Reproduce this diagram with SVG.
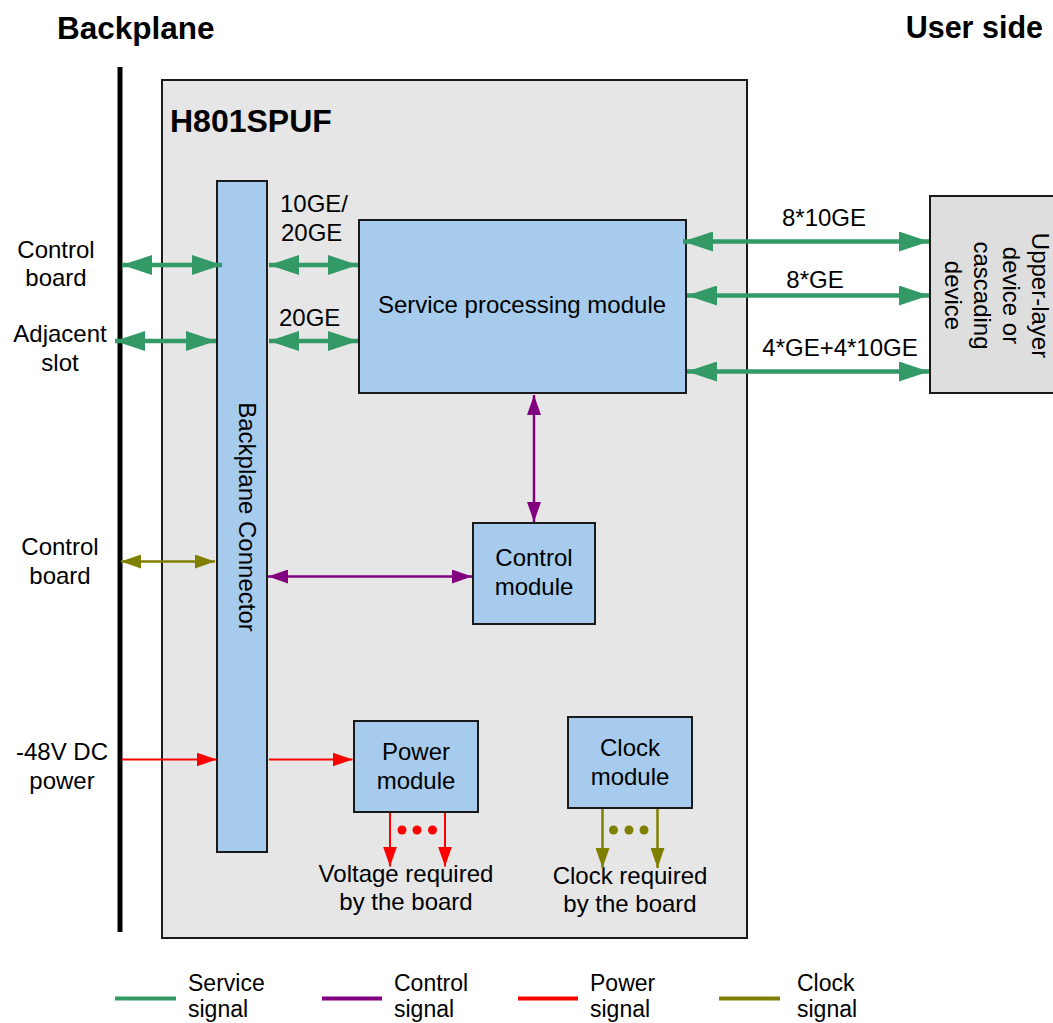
<svg xmlns="http://www.w3.org/2000/svg" width="1053" height="1023" viewBox="0 0 1053 1023">
<style>
text{font-family:"Liberation Sans",Arial,sans-serif;fill:#000}
.t{font-size:24px}
.c{text-anchor:middle}
.b{font-weight:bold}
.lg{font-size:23px}
.box{fill:#a6cbec;stroke:#1a1a1a;stroke-width:2}
.svc{stroke:#339966;stroke-width:4.5;fill:none}
.ctl{stroke:#800080;stroke-width:2.5;fill:none}
.pwr{stroke:#ff0000;stroke-width:2;fill:none}
.clk{stroke:#808000;stroke-width:2.5;fill:none}
</style>
<defs>
<marker id="mg" viewBox="0 0 30 20" markerWidth="30" markerHeight="20" refX="30" refY="10" orient="auto-start-reverse" markerUnits="userSpaceOnUse"><path d="M0,0 L30,10 L0,20 z" fill="#339966"/></marker>
<marker id="mp" viewBox="0 0 20 14" markerWidth="20" markerHeight="14" refX="20" refY="7" orient="auto-start-reverse" markerUnits="userSpaceOnUse"><path d="M0,0 L20,7 L0,14 z" fill="#800080"/></marker>
<marker id="mr" viewBox="0 0 20 14" markerWidth="20" markerHeight="14" refX="20" refY="7" orient="auto-start-reverse" markerUnits="userSpaceOnUse"><path d="M0,0 L20,7 L0,14 z" fill="#ff0000"/></marker>
<marker id="mo" viewBox="0 0 20 14" markerWidth="20" markerHeight="14" refX="20" refY="7" orient="auto-start-reverse" markerUnits="userSpaceOnUse"><path d="M0,0 L20,7 L0,14 z" fill="#808000"/></marker>
</defs>
<rect width="1053" height="1023" fill="#fff"/>

<g id="titles">
<text class="b" x="57" y="39" font-size="31.5">Backplane</text>
<text class="b" x="1043" y="37.5" font-size="30.5" text-anchor="end">User side</text>
</g>

<g id="backplane">
<line x1="120" y1="67" x2="120" y2="932" stroke="#000" stroke-width="5"/>
</g>

<g id="board">
<rect x="162" y="80" width="585" height="858" fill="#e6e6e6" stroke="#1a1a1a" stroke-width="2"/>
<text class="b" x="170" y="131.5" font-size="32">H801SPUF</text>
</g>

<g id="backplane-connector">
<rect class="box" x="217" y="181" width="50" height="671"/>
<text class="t c" transform="translate(238.5,517) rotate(90)">Backplane Connector</text>
</g>

<g id="service-module">
<rect class="box" x="359" y="220" width="327" height="173"/>
<text class="t c" x="522" y="313">Service processing module</text>
</g>

<g id="control-module">
<rect class="box" x="473" y="523" width="122" height="101"/>
<text class="t c" x="534" y="566">Control</text>
<text class="t c" x="534" y="595">module</text>
</g>

<g id="power-module">
<rect class="box" x="354" y="721" width="124" height="91"/>
<text class="t c" x="416" y="760">Power</text>
<text class="t c" x="416" y="788.5">module</text>
</g>

<g id="clock-module">
<rect class="box" x="568" y="717" width="124" height="91"/>
<text class="t c" x="630" y="755.5">Clock</text>
<text class="t c" x="630" y="785">module</text>
</g>

<g id="upper-device">
<rect x="930" y="196" width="130" height="197" fill="#dedede" stroke="#1a1a1a" stroke-width="2"/>
<text class="t c" transform="translate(1032,295.5) rotate(90)">Upper-layer</text>
<text class="t c" transform="translate(1003,295.5) rotate(90)">device or</text>
<text class="t c" transform="translate(974,295.5) rotate(90)">cascading</text>
<text class="t c" transform="translate(945,295.5) rotate(90)">device</text>
</g>

<g id="labels">
<text class="t c" x="56" y="257.5">Control</text>
<text class="t c" x="56" y="286">board</text>
<text class="t c" x="60" y="342">Adjacent</text>
<text class="t c" x="60" y="370.5">slot</text>
<text class="t c" x="60" y="555">Control</text>
<text class="t c" x="60" y="583.5">board</text>
<text class="t c" x="62" y="760">-48V DC</text>
<text class="t c" x="62" y="788.5">power</text>
<text class="t" x="280" y="211.5">10GE/</text>
<text class="t" x="281" y="240.5">20GE</text>
<text class="t" x="279" y="325.5">20GE</text>
<text class="t c" x="824" y="226">8*10GE</text>
<text class="t c" x="815" y="287.5">8*GE</text>
<text class="t c" x="840" y="355.5">4*GE+4*10GE</text>
<text class="t c" x="406" y="881.5">Voltage required</text>
<text class="t c" x="406" y="910">by the board</text>
<text class="t c" x="630" y="883.5">Clock required</text>
<text class="t c" x="630" y="912">by the board</text>
</g>

<g id="connectors">
<line class="svc" x1="122" y1="265" x2="222" y2="265" marker-start="url(#mg)" marker-end="url(#mg)"/>
<line class="svc" x1="115" y1="341" x2="216" y2="341" marker-start="url(#mg)" marker-end="url(#mg)"/>
<line class="svc" x1="269" y1="265" x2="358" y2="265" marker-start="url(#mg)" marker-end="url(#mg)"/>
<line class="svc" x1="269" y1="341" x2="358" y2="341" marker-start="url(#mg)" marker-end="url(#mg)"/>
<line class="svc" x1="683" y1="241.5" x2="929" y2="241.5" marker-start="url(#mg)" marker-end="url(#mg)"/>
<line class="svc" x1="687" y1="295.5" x2="929" y2="295.5" marker-start="url(#mg)" marker-end="url(#mg)"/>
<line class="svc" x1="687" y1="371.5" x2="929" y2="371.5" marker-start="url(#mg)" marker-end="url(#mg)"/>
<line class="ctl" x1="534" y1="395" x2="534" y2="522" marker-start="url(#mp)" marker-end="url(#mp)"/>
<line class="ctl" x1="268" y1="576.5" x2="472" y2="576.5" marker-start="url(#mp)" marker-end="url(#mp)"/>
<line class="clk" x1="121" y1="561.5" x2="215" y2="561.5" marker-start="url(#mo)" marker-end="url(#mo)"/>
<line class="pwr" x1="122" y1="759.5" x2="216.5" y2="759.5" marker-end="url(#mr)"/>
<line class="pwr" x1="269" y1="759.5" x2="352.5" y2="759.5" marker-end="url(#mr)"/>
<line class="pwr" stroke-width="3" x1="390" y1="813" x2="390" y2="866.5" marker-end="url(#mr)"/>
<line class="pwr" stroke-width="3" x1="445" y1="813" x2="445" y2="866.5" marker-end="url(#mr)"/>
<circle cx="402" cy="830" r="4.5" fill="#ff0000"/>
<circle cx="417" cy="830" r="4.5" fill="#ff0000"/>
<circle cx="432.5" cy="830" r="4.5" fill="#ff0000"/>
<line class="clk" stroke-width="3" x1="602.5" y1="809" x2="602.5" y2="868" marker-end="url(#mo)"/>
<line class="clk" stroke-width="3" x1="657.5" y1="809" x2="657.5" y2="868" marker-end="url(#mo)"/>
<circle cx="613.5" cy="830" r="4.5" fill="#808000"/>
<circle cx="629" cy="830" r="4.5" fill="#808000"/>
<circle cx="644" cy="830" r="4.5" fill="#808000"/>
</g>

<g id="legend">
<line x1="115" y1="998.5" x2="176" y2="998.5" stroke="#339966" stroke-width="4"/>
<text class="lg" x="188" y="991">Service</text>
<text class="lg" x="188" y="1016.5">signal</text>
<line x1="322" y1="998.5" x2="382" y2="998.5" stroke="#800080" stroke-width="4"/>
<text class="lg" x="394" y="991">Control</text>
<text class="lg" x="394" y="1016.5">signal</text>
<line x1="518" y1="998.5" x2="578" y2="998.5" stroke="#ff0000" stroke-width="4"/>
<text class="lg" x="590" y="991">Power</text>
<text class="lg" x="590" y="1016.5">signal</text>
<line x1="719" y1="998.5" x2="780" y2="998.5" stroke="#808000" stroke-width="4"/>
<text class="lg" x="797" y="991">Clock</text>
<text class="lg" x="797" y="1016.5">signal</text>
</g>
</svg>
